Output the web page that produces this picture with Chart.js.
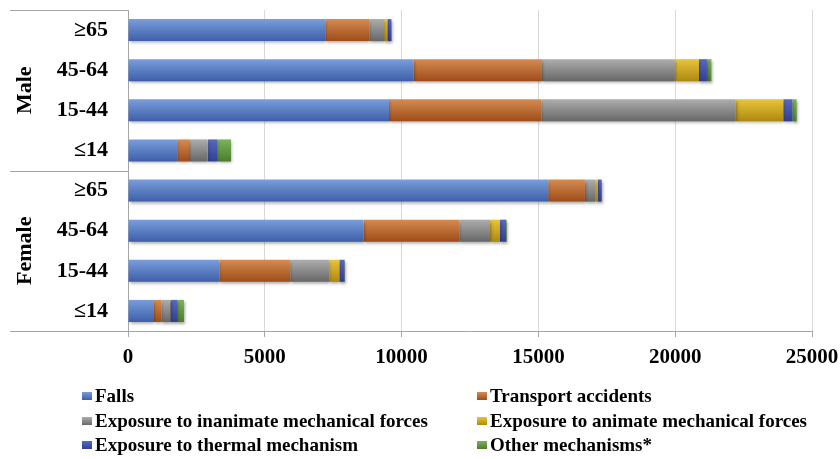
<!DOCTYPE html>
<html>
<head>
<meta charset="utf-8">
<script src="https://cdn.jsdelivr.net/npm/chart.js@4"></script>
<style>
  html, body { margin: 0; padding: 0; background: #fff; }
  #wrap { width: 840px; height: 459px; }
</style>
</head>
<body>
<div id="wrap"><canvas id="injuryChart" width="840" height="459"></canvas></div>
<script>
const ageGroups = ['≥65', '45-64', '15-44', '≤14', '≥65', '45-64', '15-44', '≤14'];
const sexGroups = ['Male', 'Female'];

// Male ≥65, 45-64, 15-44, ≤14, then Female ≥65, 45-64, 15-44, ≤14
const falls      = [7210, 10440, 9540, 1800, 15360, 8610, 3340, 950];
const transport  = [1610, 4690, 5570, 430, 1340, 3500, 2590, 270];
const inanimate  = [540, 4860, 7100, 670, 380, 1120, 1430, 315];
const animate    = [120, 880, 1740, 25, 85, 365, 365, 10];
const thermal    = [135, 290, 330, 330, 135, 220, 185, 245];
const other      = [20, 160, 160, 510, 25, 25, 20, 255];

const xTicks = [0, 5000, 10000, 15000, 20000, 25000];

const seriesNames = ['Falls', 'Transport accidents', 'Exposure to inanimate mechanical forces',
  'Exposure to animate mechanical forces', 'Exposure to thermal mechanism', 'Other mechanisms*'];
const seriesData = [falls, transport, inanimate, animate, thermal, other];
const lightCols = ['#7a9ddd', '#d68b50', '#adadad', '#eac43c', '#5669bf', '#7cb458'];
const darkCols  = ['#3c5fa8', '#9e4c1a', '#676767', '#ad8810', '#313f94', '#4a7d2e'];
const midCols   = ['#5a7fc6', '#bf6a30', '#8c8c8c', '#cfa624', '#4354aa', '#5f9a40'];

const serif = "'Liberation Serif', 'Times New Roman', serif";

function barFill(i) {
    return (c) => {
        const chart = c.chart;
        const y = chart.scales && chart.scales.y;
        if (!y || c.dataIndex === undefined || !chart.chartArea) return midCols[i];
        const py = y.getPixelForValue(c.dataIndex);
        const g = chart.ctx.createLinearGradient(0, py - 11, 0, py + 11);
        g.addColorStop(0, lightCols[i]);
        g.addColorStop(1, darkCols[i]);
        return g;
    };
}

const datasets = seriesData.map((d, i) => ({
    label: seriesNames[i],
    data: d,
    backgroundColor: barFill(i),
    borderWidth: 0,
    categoryPercentage: 1,
    barPercentage: 0.55
}));

// soft shadow under the bars, like the original
const shadowPlugin = {
    id: 'barShadow',
    beforeDatasetsDraw(chart) {
        const ctx = chart.ctx;
        ctx.save();
        ctx.shadowColor = 'rgba(0,0,0,0.35)';
        ctx.shadowBlur = 3;
        ctx.shadowOffsetX = 1;
        ctx.shadowOffsetY = 2;
    },
    afterDatasetsDraw(chart) {
        chart.ctx.restore();
    }
};

// group labels (Male / Female), category box lines and the legend
const extrasPlugin = {
    id: 'extras',
    afterDraw(chart) {
        const ctx = chart.ctx;
        const y = chart.scales.y;
        const area = chart.chartArea;
        const half = (y.getPixelForValue(1) - y.getPixelForValue(0)) / 2;

        ctx.save();
        ctx.strokeStyle = '#a6a6a6';
        ctx.lineWidth = 1;
        const lines = [area.top, y.getPixelForValue(3) + half, area.bottom];
        lines.forEach((ly) => {
            ctx.beginPath();
            ctx.moveTo(10, Math.round(ly) + 0.5);
            ctx.lineTo(area.left, Math.round(ly) + 0.5);
            ctx.stroke();
        });

        ctx.fillStyle = '#000';
        ctx.font = 'bold 22px ' + serif;
        ctx.textAlign = 'center';
        ctx.textBaseline = 'middle';
        sexGroups.forEach((name, k) => {
            const cy = (y.getPixelForValue(k * 4) + y.getPixelForValue(k * 4 + 3)) / 2;
            ctx.save();
            ctx.translate(25, cy);
            ctx.rotate(-Math.PI / 2);
            ctx.fillText(name, 0, 0);
            ctx.restore();
        });

        // legend, two columns
        const colX = [82, 477];
        const rowY = [396, 421, 445];
        ctx.font = 'bold 19px ' + serif;
        ctx.textAlign = 'left';
        seriesNames.forEach((name, i) => {
            const mx = colX[i % 2];
            const my = rowY[Math.floor(i / 2)];
            const g = ctx.createLinearGradient(0, my - 4, 0, my + 4);
            g.addColorStop(0, lightCols[i]);
            g.addColorStop(1, darkCols[i]);
            ctx.fillStyle = g;
            ctx.fillRect(mx, my - 4, 10, 8);
            ctx.fillStyle = '#000';
            ctx.fillText(name, mx + 13, my + 1);
        });
        ctx.restore();
    }
};

new Chart(document.getElementById('injuryChart'), {
    type: 'bar',
    data: { labels: ageGroups, datasets: datasets },
    plugins: [shadowPlugin, extrasPlugin],
    options: {
        indexAxis: 'y',
        responsive: false,
        animation: false,
        layout: { padding: { top: 10, right: 28, left: 0, bottom: 0 } },
        plugins: {
            legend: { display: false },
            tooltip: { enabled: false }
        },
        scales: {
            x: {
                stacked: true,
                min: 0,
                max: 25000,
                afterBuildTicks: (s) => { s.ticks = xTicks.map(v => ({ value: v })); },
                afterFit: (s) => { s.height = 128; s.paddingLeft = 0; s.paddingRight = 0; },
                grid: { color: '#d9d9d9', tickColor: '#a6a6a6', tickLength: 6 },
                border: { color: '#a6a6a6' },
                ticks: {
                    color: '#000',
                    padding: 8,
                    maxRotation: 0,
                    callback: (v) => String(v),
                    font: { family: serif, size: 21, weight: 'bold' }
                }
            },
            y: {
                stacked: true,
                afterFit: (s) => { s.width = 128; s.paddingTop = 0; s.paddingBottom = 0; },
                grid: { display: false },
                border: { color: '#a6a6a6' },
                ticks: {
                    color: '#000',
                    padding: 12,
                    font: { family: serif, size: 22, weight: 'bold' }
                }
            }
        }
    }
});
</script>
</body>
</html>
